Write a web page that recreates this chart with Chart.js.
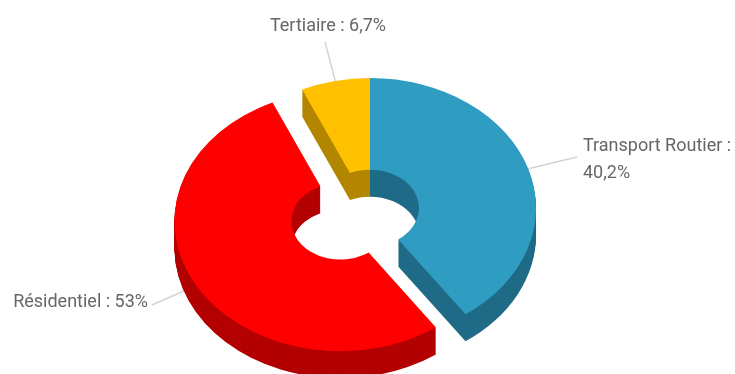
<!DOCTYPE html>
<html>
<head>
<meta charset="utf-8">
<style>
  html, body { margin: 0; padding: 0; background: #fff; }
  canvas { display: block; }
</style>
<script src="https://cdn.jsdelivr.net/npm/chart.js@4"></script>
</head>
<body>
<canvas id="pie" width="735" height="374"></canvas>
<script>
// --- DATA ---
const categories = ['Transport Routier', 'Résidentiel', 'Tertiaire'];
const values = [40.2, 53, 6.7];

// --- STYLE ---
const topColors = ['#2f9cc2', '#ff0000', '#ffc000'];
const sideColors = ['#1f6b87', '#b30000', '#b38600'];
const explode = [0, 34, 0];
const squash = 0.783;   // circle -> ellipse
const depth = 27;
const labelFont = '18px Roboto, sans-serif';
// where each label sits: x, y of first line, text align
const labelPos = [
  { x: 583, y: 146, align: 'left', end: [577, 157], wrap: true },
  { x: 148, y: 302, align: 'right', end: [152, 305] },
  { x: 328, y: 26, align: 'center', end: [325, 42] }
];

function labelLines(i) {
  const pct = String(values[i]).replace('.', ',') + '%';
  if (labelPos[i].wrap) return [categories[i] + ' :', pct];
  return [categories[i] + ' : ' + pct];
}

function squashCtx(ctx, cy) {
  ctx.translate(0, cy);
  ctx.scale(1, squash);
  ctx.translate(0, -cy);
}

function sectorPath(ctx, arc, dy) {
  ctx.beginPath();
  ctx.arc(arc.x, arc.y + dy, arc.outerRadius, arc.startAngle, arc.endAngle);
  ctx.arc(arc.x, arc.y + dy, arc.innerRadius, arc.endAngle, arc.startAngle, true);
  ctx.closePath();
}

const pie3d = {
  id: 'pie3d',
  // move the sliced parts away from the centre
  afterDatasetsUpdate(chart) {
    chart.getDatasetMeta(0).data.forEach((arc, i) => {
      const mid = (arc.startAngle + arc.endAngle) / 2;
      arc.x += Math.cos(mid) * explode[i];
      arc.y += Math.sin(mid) * explode[i];
    });
  },
  beforeDatasetDraw(chart) {
    const ctx = chart.ctx;
    const arcs = chart.getDatasetMeta(0).data;
    const cy = (chart.chartArea.top + chart.chartArea.bottom) / 2;

    // connectors, under the slices
    ctx.save();
    ctx.strokeStyle = '#d4d4d4';
    ctx.lineWidth = 1.5;
    arcs.forEach((arc, i) => {
      const mid = (arc.startAngle + arc.endAngle) / 2;
      const px = arc.x + Math.cos(mid) * arc.outerRadius;
      const py = cy + (arc.y + Math.sin(mid) * arc.outerRadius - cy) * squash;
      ctx.beginPath();
      ctx.moveTo(px, py);
      ctx.lineTo(labelPos[i].end[0], labelPos[i].end[1]);
      ctx.stroke();
    });
    ctx.restore();

    ctx.save();
    squashCtx(ctx, cy);
    // walls: stack of dark copies going down
    arcs.forEach((arc, i) => {
      ctx.fillStyle = sideColors[i];
      for (let k = depth; k > 0; k -= 1) {
        sectorPath(ctx, arc, k / squash);
        ctx.fill();
      }
    });
    // left on for the library's own top faces, restored below
  },
  afterDatasetDraw(chart) {
    const ctx = chart.ctx;
    ctx.restore();

    ctx.save();
    ctx.font = labelFont;
    ctx.fillStyle = '#666666';
    ctx.textBaseline = 'middle';
    labelPos.forEach((pos, i) => {
      ctx.textAlign = pos.align;
      labelLines(i).forEach((line, n) => {
        ctx.fillText(line, pos.x, pos.y + n * 27);
      });
    });
    ctx.restore();
  }
};

new Chart(document.getElementById('pie'), {
  type: 'doughnut',
  data: {
    labels: categories,
    datasets: [{
      data: values,
      backgroundColor: topColors,
      borderWidth: 0,
      hoverOffset: 0
    }]
  },
  options: {
    responsive: false,
    animation: false,
    events: [],
    radius: 166,
    cutout: 49,
    clip: false,
    layout: { padding: { left: 5, top: 42 } },
    plugins: { legend: { display: false }, tooltip: { enabled: false } }
  },
  plugins: [pie3d]
});
</script>
</body>
</html>
